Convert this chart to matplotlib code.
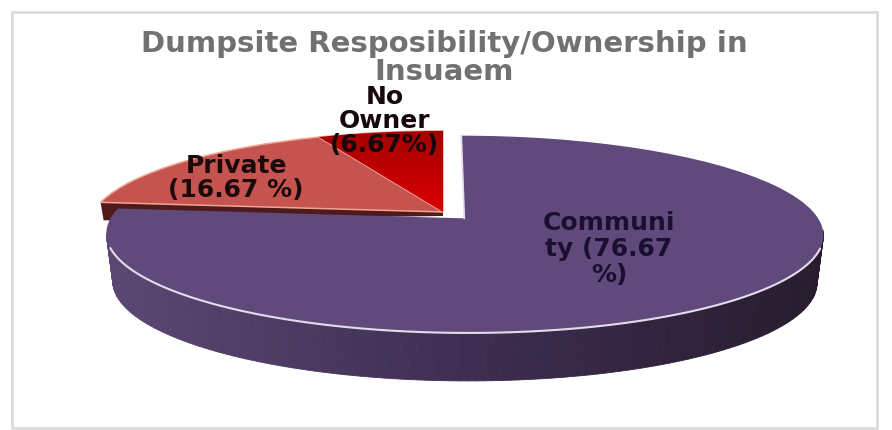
import numpy as np
import matplotlib
matplotlib.use("Agg")
import matplotlib.pyplot as plt
from matplotlib.collections import PolyCollection
from matplotlib.colors import LinearSegmentedColormap
from matplotlib.patches import Rectangle
from matplotlib.transforms import Transform

# ---- data ----
categories = ["Community", "Private", "No Owner"]
values = [76.67, 16.67, 6.67]
labels = ["Communi\nty (76.67\n%)", "Private\n(16.67 %)", "No\nOwner\n(6.67%)"]
title = "Dumpsite Resposibility/Ownership in\nInsuaem"
colors = ["#5f4a7b", "#c5534f", "#c40000"]

# ---- 3D look of the pie ----
AX, BY, K = 350.0, 94.0, 0.16      # perspective of the pie plane
CX, CY = 443.0, 212.0              # pixel position of the pie centre
DEPTH, SHRINK = 48.0, 0.982        # wall height and far-rim scale


def project(x, y):
    x, y = np.asarray(x, float), np.asarray(y, float)
    w = 1 + K * y
    return CX + AX * x / w, CY - BY * y / w


class Perspective(Transform):
    input_dims = output_dims = 2
    is_separable = False
    has_inverse = False

    def transform_non_affine(self, values):
        v = np.asarray(values, float)
        return np.column_stack(project(v[:, 0], v[:, 1]))


fig = plt.figure(figsize=(8.92, 4.30), dpi=100, facecolor="white")
ax = fig.add_axes([0, 0, 1, 1])
wedges, _ = ax.pie(values, colors=colors, startangle=90, counterclock=False,
                   explode=[0.09, 0, 0], radius=1)
ax.set_aspect("auto")
ax.axis("off")

persp = Perspective() + ax.transData
community, private, noowner = wedges


def rim(w, n=240):
    t = np.radians(np.linspace(w.theta1, w.theta2, n))
    cx, cy = w.center
    return project(cx + w.r * np.cos(t), cy + w.r * np.sin(t))


def floor(px, py):
    return 463 + (px - 463) * SHRINK, py + DEPTH


# frame
ax.add_patch(Rectangle((12, 12), 865, 416, fill=False, ec="#dcdcdc", lw=2, zorder=0))

# small wall under the private slice (its straight front edge)
tx, ty = rim(private)
i = np.argmin(tx)
ax.fill([tx[i], CX, CX, tx[i] + 3], [ty[i], CY, CY + 4, ty[i] + 18],
        color="#4e1a1c", lw=0, zorder=1)

# upper slices
for w in (private, noowner):
    w.set_transform(persp)
    w.set_edgecolor("#f0a593")
    w.set_linewidth(1.1)
    w.set_zorder(2)

# darker-at-the-top shading of the no-owner slice
nx, ny = rim(noowner)
red = LinearSegmentedColormap.from_list("red", ["#a30000", "#dc0000"])
grad = ax.imshow(np.linspace(0, 1, 64).reshape(-1, 1), cmap=red, aspect="auto",
                 extent=(CX - 140, CX + 2, CY + 1, ny.min() - 1), origin="upper", zorder=2.1)
grad.set_clip_path(noowner)

# community wall with a left-to-right shading
wall = LinearSegmentedColormap.from_list("wall", ["#5a4773", "#3e2e52", "#271b2d"])
px, py = rim(community)
bx, by = floor(px, py)
idx = np.where(py[:-1] > CY + 20)[0]
quads = [[(px[i], py[i]), (px[i + 1], py[i + 1]), (bx[i + 1], by[i + 1]), (bx[i], by[i])]
         for i in idx]
shade = (px[idx] - px.min()) / (px.max() - px.min())
ax.add_collection(PolyCollection(quads, facecolors=wall(shade), edgecolors=wall(shade),
                                 linewidths=0.6, zorder=3))

# community top face
community.set_transform(persp)
community.set_edgecolor("none")
community.set_zorder(4)

# light rim on the front of the community slice
front = py > CY + 36
ax.plot(px[front], py[front], color="#e4dcea", lw=1.5, zorder=5, solid_capstyle="round")
ccx, ccy = project(*community.center)
tipx, tipy = project(community.center[0] + np.cos(np.radians(community.theta2)),
                     community.center[1] + np.sin(np.radians(community.theta2)))
if tipx > ccx:
    tipx, tipy = project(community.center[0] + np.cos(np.radians(community.theta1)),
                         community.center[1] + np.sin(np.radians(community.theta1)))
ax.plot([tipx, ccx], [tipy, ccy], color="#e4dcea", lw=1.2, zorder=5)

ax.set_xlim(0, 892)
ax.set_ylim(430, 0)

# text
ax.text(444, 57.5, title, ha="center", va="center", fontsize=21, fontweight="bold",
        color="#717171", linespacing=1.0, zorder=6)
ax.text(385, 121, labels[2], ha="center", va="center", fontsize=18, fontweight="bold",
        color="#16080c", linespacing=1.0, zorder=6)
ax.text(236, 178, labels[1], ha="center", va="center", fontsize=18, fontweight="bold",
        color="#1c0a0a", linespacing=1.0, zorder=6)
ax.text(609, 249, labels[0], ha="center", va="center", fontsize=18, fontweight="bold",
        color="#1a0f30", linespacing=1.1, zorder=6)

fig.savefig("out.png", dpi=100, facecolor="white")
